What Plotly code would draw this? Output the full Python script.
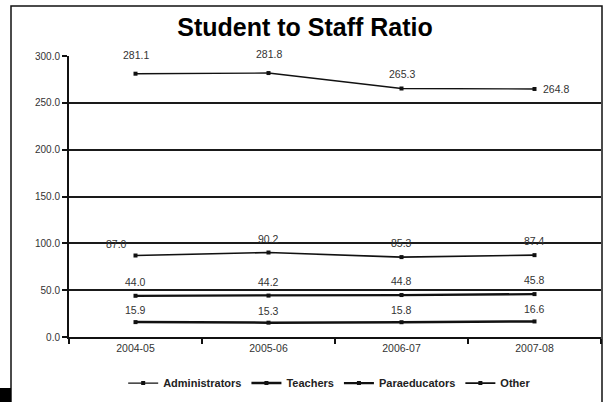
import plotly.graph_objects as go

categories = ["2004-05", "2005-06", "2006-07", "2007-08"]
administrators = [281.1, 281.8, 265.3, 264.8]
teachers = [15.9, 15.3, 15.8, 16.6]
paraeducators = [44.0, 44.2, 44.8, 45.8]
other = [87.0, 90.2, 85.3, 87.4]
series_names = ["Administrators", "Teachers", "Paraeducators", "Other"]

lab_font = dict(family="Arial, Liberation Sans", size=10.5, color="#333")

fig = go.Figure()
series = [
    (series_names[0], administrators, 1.4,
     [(0, 19, "center"), (0, 19, "center"), (0, 15, "center"), (6, 0, "left")]),
    (series_names[1], teachers, 2.5, [(0, 12, "center")] * 4),
    (series_names[2], paraeducators, 2.3, [(0, 14, "center")] * 4),
    (series_names[3], other, 1.6,
     [(-19, 12, "center"), (0, 14, "center"), (0, 14, "center"), (0, 14, "center")]),
]
for name, vals, w, offs in series:
    fig.add_trace(go.Scatter(
        x=categories, y=vals, name=name, mode="lines+markers",
        line=dict(color="#111", width=w),
        marker=dict(symbol="square", size=4, color="#111"),
    ))
    for c, v, (dx, dy, anc) in zip(categories, vals, offs):
        fig.add_annotation(x=c, y=v, text=f"{v:.1f}", showarrow=False,
                           xshift=dx, yshift=dy, xanchor=anc, yanchor="middle",
                           font=lab_font)

fig.update_layout(
    width=604, height=402,
    margin=dict(l=69, r=3, t=56, b=65),
    paper_bgcolor="white", plot_bgcolor="white",
    title=dict(text="<b>Student to Staff Ratio</b>", x=305 / 604, xanchor="center",
               y=1 - 27 / 402, yanchor="middle",
               font=dict(family="Arial, Liberation Sans", size=25, color="black")),
    showlegend=True,
    legend=dict(orientation="h", x=0.49, xanchor="center", y=-0.164, yanchor="middle",
                font=dict(family="Arial, Liberation Sans", size=11, color="#222", weight="bold"),
                tracegroupgap=0, itemwidth=30),
    font=dict(family="Arial, Liberation Sans"),
)
fig.update_xaxes(
    type="category", range=[-0.5, 3.5], tickson="boundaries",
    ticks="outside", ticklen=5, tickcolor="#111", tickwidth=1.5,
    showline=True, linecolor="#111", linewidth=2.2, showgrid=False,
    tickfont=dict(family="Arial, Liberation Sans", size=10.5, color="#333"),
)
fig.update_yaxes(
    range=[0, 300], dtick=50, tickformat=".1f",
    ticks="outside", ticklen=5, tickcolor="#111", tickwidth=1.5,
    showline=True, linecolor="#111", linewidth=2,
    showgrid=True, gridcolor="#1a1a1a", gridwidth=1.8, zeroline=False,
    tickfont=dict(family="Arial, Liberation Sans", size=10, color="#333"),
)
# page frame and corner block
fig.add_shape(type="rect", xref="paper", yref="paper",
              x0=(11 - 69) / 532, x1=(602 - 69) / 532, y0=-0.4, y1=(337 - 6) / 281,
              line=dict(color="#111", width=1.5))
fig.add_shape(type="rect", xref="paper", yref="paper",
              x0=(0 - 69) / 532, x1=(11 - 69) / 532, y0=(337 - 402) / 281, y1=(337 - 388) / 281,
              fillcolor="black", line=dict(width=0))
fig.write_html("out.html", config={"displayModeBar": False},
               post_script="document.body.style.margin='0';")
